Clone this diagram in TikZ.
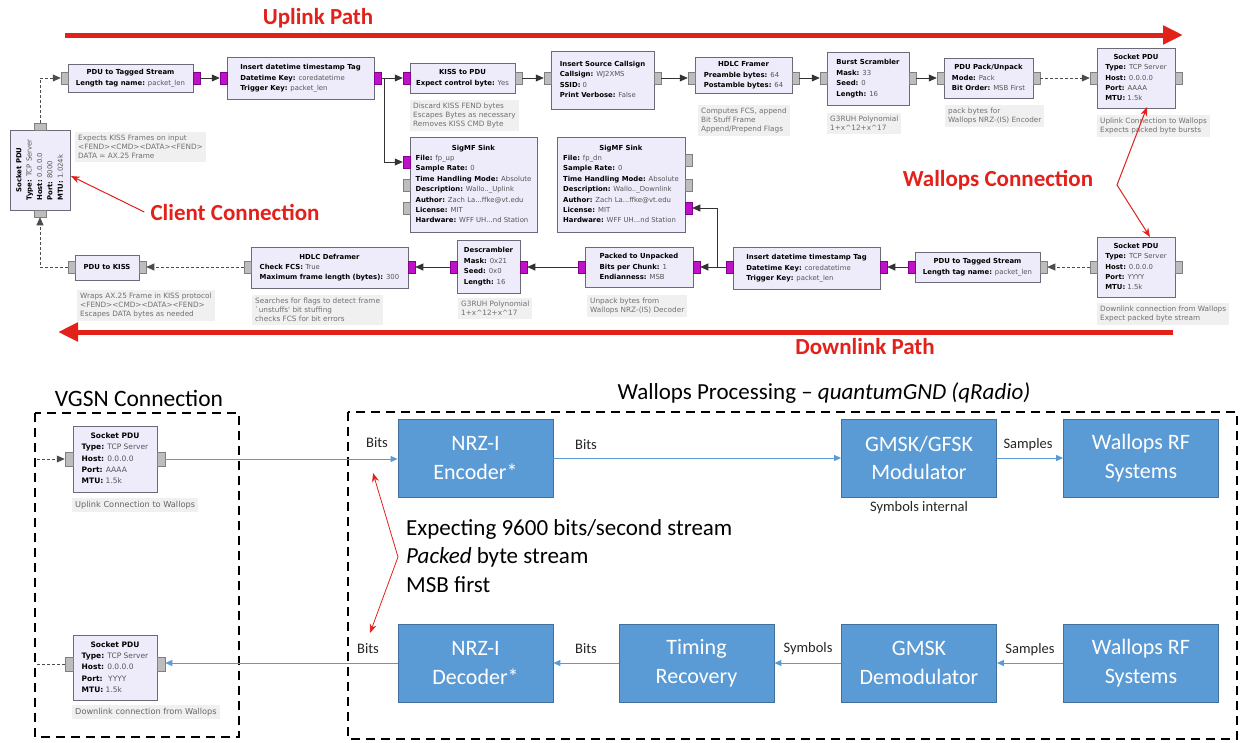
\documentclass[tikz,border=0pt]{standalone}
\usepackage{fontspec}
\setmainfont{Carlito}
\newfontfamily\dvfont{DejaVu Sans}
\usetikzlibrary{arrows.meta}
\definecolor{gfill}{HTML}{EEECFA}
\definecolor{gborder}{HTML}{6A6A78}
\definecolor{pgray}{HTML}{BDBDBD}
\definecolor{pgrayb}{HTML}{7F7F7F}
\definecolor{pmag}{HTML}{C010C8}
\definecolor{pmagb}{HTML}{800090}
\definecolor{cfill}{HTML}{F0F0F0}
\definecolor{ctext}{HTML}{707070}
\definecolor{gval}{HTML}{555555}
\definecolor{rred}{HTML}{E3211B}
\definecolor{bfill}{HTML}{5B9BD5}
\definecolor{bdraw}{HTML}{41719C}
\definecolor{bline}{HTML}{5B9BD5}
\newcommand{\gbf}{\dvfont\fontsize{6.9}{10.4}\selectfont}
\newcommand{\gcf}{\dvfont\fontsize{7.3}{9}\selectfont}
\newcommand{\vbf}{\dvfont\fontsize{7.5}{11.3}\selectfont}
\newcommand{\vcf}{\dvfont\fontsize{8.2}{10}\selectfont}
\newcommand{\gtitle}[1]{\multicolumn{1}{@{}c@{}}{\textbf{#1}}}
\newcommand{\gkv}[2]{\textbf{#1:} \textcolor{gval}{#2}}
\newcommand{\gtab}[1]{\begin{tabular}{@{}l@{}}#1\end{tabular}}
\tikzset{
  gblk/.style={draw=gborder, fill=gfill, line width=0.7pt, inner sep=1.5pt, font=\gbf, align=left},
  vblk/.style={gblk, font=\vbf},
  gport/.style={draw=pgrayb, fill=pgray, minimum width=7pt, minimum height=12pt, inner sep=0pt, line width=0.5pt},
  mport/.style={gport, draw=pmagb, fill=pmag},
  vport/.style={gport, minimum width=12pt, minimum height=7pt},
  bport/.style={gport, minimum width=8pt, minimum height=14pt},
  gcom/.style={fill=cfill, text=ctext, font=\gcf, align=left, inner sep=3pt, anchor=north west},
  vcom/.style={gcom, font=\vcf, text=black!60},
  gcon/.style={draw=black!80, line width=0.7pt, -{Triangle[length=8pt,width=7pt]}},
  gmsg/.style={gcon, draw=black!70, dash pattern=on 3pt off 2pt},
  bbox/.style={draw=bdraw, fill=bfill, line width=0.8pt, text=white, font=\fontsize{22}{28.5}\selectfont, align=center, minimum width=155pt, minimum height=78pt, inner sep=0pt},
  bcon/.style={draw=bline, line width=0.9pt, -{Triangle[length=7pt,width=6pt]}},
  blab/.style={font=\fontsize{14.5}{17}\selectfont, text=black!85, inner sep=1pt},
  dbox/.style={draw=black, line width=2.5pt, dash pattern=on 9pt off 6pt},
  rbig/.style={draw=rred, line width=5pt, -{Triangle[length=20pt,width=18pt]}},
  rone/.style={draw=rred, line width=1pt, -{Stealth[length=9pt,width=7pt]}},
  rtwo/.style={draw=rred, line width=1pt, {Stealth[length=9pt,width=7pt]}-{Stealth[length=9pt,width=7pt]}},
  rlab/.style={text=rred, font=\bfseries\fontsize{23}{27}\selectfont, inner sep=0pt},
  ttl/.style={font=\fontsize{23}{27}\selectfont, inner sep=0pt}
}
\begin{document}
\begin{tikzpicture}[x=1pt,y=-1pt]
\fill[white] (0,0) rectangle (1248,742);
\useasboundingbox (0,0) rectangle (1248,742);

% ---------- big red path arrows
\coordinate (u1) at (65,35); \coordinate (u2) at (1183,35);
\draw[rbig] (u1) -- (u2);
\node[rlab] (ut) at (318,18) {Uplink Path};
\coordinate (d1) at (1173,332); \coordinate (d2) at (58,332);
\draw[rbig] (d1) -- (d2);
\node[rlab] (dt) at (865,347) {Downlink Path};

% ---------- top uplink chain
\node[gblk, minimum width=125pt, minimum height=28pt] (a1) at (130.5,78) {\gtab{\gtitle{PDU to Tagged Stream}\\\gkv{Length tag name}{packet\_len}}};
\node[gport] (a1i) at (64.5,78) {};
\node[mport] (a1o) at (196.5,78) {};
\node[gblk, minimum width=147pt, minimum height=42pt] (a2) at (300.5,78) {\gtab{\gtitle{Insert datetime timestamp Tag}\\\gkv{Datetime Key}{coredatetime}\\\gkv{Trigger Key}{packet\_len}}};
\node[mport] (a2i) at (223.5,78) {};
\node[mport] (a2o) at (377.5,78) {};
\node[gblk, minimum width=105pt, minimum height=30pt] (a3) at (462.5,78) {\gtab{\gtitle{KISS to PDU}\\\gkv{Expect control byte}{Yes}}};
\node[mport] (a3i) at (406.5,78) {};
\node[gport] (a3o) at (518.5,78) {};
\node[gblk, minimum width=103pt, minimum height=58pt] (a4) at (602.5,80) {\gtab{\gtitle{Insert Source Callsign}\\\gkv{Callsign}{WJ2XMS}\\\gkv{SSID}{0}\\\gkv{Print Verbose}{False}}};
\node[gport] (a4i) at (547.5,78) {};
\node[gport] (a4o) at (657.5,78) {};
\node[gblk, minimum width=97pt, minimum height=36pt] (a5) at (743.5,75) {\gtab{\gtitle{HDLC Framer}\\\gkv{Preamble bytes}{64}\\\gkv{Postamble bytes}{64}}};
\node[gport] (a5i) at (691.5,78) {};
\node[gport] (a5o) at (795.5,78) {};
\node[gblk, minimum width=82pt, minimum height=53pt] (a6) at (868,78.5) {\gtab{\gtitle{Burst Scrambler}\\\gkv{Mask}{33}\\\gkv{Seed}{0}\\\gkv{Length}{16}}};
\node[gport] (a6i) at (823.5,78) {};
\node[gport] (a6o) at (912.5,78) {};
\node[gblk, minimum width=89pt, minimum height=40pt] (a7) at (988.5,78) {\gtab{\gtitle{PDU Pack/Unpack}\\\gkv{Mode}{Pack}\\\gkv{Bit Order}{MSB First}}};
\node[gport] (a7i) at (940.5,78) {};
\node[gport] (a7o) at (1036.5,78) {};
\node[gblk, minimum width=78pt, minimum height=60pt] (a8) at (1136,78) {\gtab{\gtitle{Socket PDU}\\\gkv{Type}{TCP Server}\\\gkv{Host}{0.0.0.0}\\\gkv{Port}{AAAA}\\\gkv{MTU}{1.5k}}};
\node[gport] (a8i) at (1093.5,78) {};
\node[gport] (a8o) at (1178.5,78) {};

\draw[gcon] (a1o.east) -- (a2i.west);
\draw[gcon] (a2o.east) -- (a3i.west);
\draw[gcon] (a3o.east) -- (a4i.west);
\draw[gcon] (a4o.east) -- (a5i.west);
\draw[gcon] (a5o.east) -- (a6i.west);
\draw[gcon] (a6o.east) -- (a7i.west);
\draw[gmsg] (a7o.east) -- (a8i.west);

% comments top
\node[gcom] (c3) at (410,100) {Discard KISS FEND bytes\\Escapes Bytes as necessary\\Removes KISS CMD Byte};
\node[gcom] (c5) at (698,105) {Computes FCS, append\\Bit Stuff Frame\\Append/Prepend Flags};
\node[gcom] (c6) at (827,113) {G3RUH Polynomial\\1+x\textasciicircum 12+x\textasciicircum 17};
\node[gcom] (c7) at (945,105) {pack bytes for\\Wallops NRZ-(IS) Encoder};
\node[gcom] (c8) at (1097,115) {Uplink Connection to Wallops\\Expects packed byte bursts};

% left socket PDU (rotated)
\node[gblk, rotate=90, minimum width=80pt, minimum height=60pt] (ls) at (40,170) {\gtab{\gtitle{Socket PDU}\\\gkv{Type}{TCP Server}\\\gkv{Host}{0.0.0.0}\\\gkv{Port}{8000}\\\gkv{MTU}{1.024k}}};
\node[vport] (lst) at (40,126.5) {};
\node[vport] (lsb) at (40,213.5) {};
\node[gcom] (c9) at (75,132) {Expects KISS Frames on input\\<FEND><CMD><DATA><FEND>\\DATA = AX.25 Frame};
\draw[gmsg] (lst.north) |- (a1i.west);

% SigMF sinks
\node[gblk, minimum width=127pt, minimum height=95pt] (s1) at (473.5,184.5) {\gtab{\gtitle{SigMF Sink}\\\gkv{File}{fp\_up}\\\gkv{Sample Rate}{0}\\\gkv{Time Handling Mode}{Absolute}\\\gkv{Description}{Wallo..\_Uplink}\\\gkv{Author}{Zach La...ffke@vt.edu}\\\gkv{License}{MIT}\\\gkv{Hardware}{WFF UH...nd Station}}};
\node[mport] (s1i) at (406.5,162) {};
\node[gport] (s1p) at (406.5,185) {};
\node[gport] (s1q) at (406.5,208) {};
\node[gblk, minimum width=128pt, minimum height=95pt] (s2) at (621,184.5) {\gtab{\gtitle{SigMF Sink}\\\gkv{File}{fp\_dn}\\\gkv{Sample Rate}{0}\\\gkv{Time Handling Mode}{Absolute}\\\gkv{Description}{Wallo..\_Downlink}\\\gkv{Author}{Zach La...ffke@vt.edu}\\\gkv{License}{MIT}\\\gkv{Hardware}{WFF UH...nd Station}}};
\node[gport] (s2p) at (688.5,160) {};
\node[gport] (s2q) at (688.5,185) {};
\node[mport] (s2m) at (688.5,208) {};
\coordinate (j1) at (384,78);
\draw[gcon] (j1) |- (s1i.west);

% ---------- bottom downlink chain
\node[gblk, minimum width=64pt, minimum height=25pt] (b1) at (107,267.5) {\gtab{\gtitle{PDU to KISS}}};
\node[gport] (b1i) at (71.5,267) {};
\node[gport] (b1o) at (142.5,267) {};
\node[gblk, minimum width=157pt, minimum height=41pt] (b2) at (329.5,267.5) {\gtab{\gtitle{HDLC Deframer}\\\gkv{Check FCS}{True}\\\gkv{Maximum frame length (bytes)}{300}}};
\node[gport] (b2i) at (247.5,267) {};
\node[mport] (b2o) at (411.5,267) {};
\node[gblk, minimum width=63pt, minimum height=53pt] (b3) at (488.5,266.5) {\gtab{\gtitle{Descrambler}\\\gkv{Mask}{0x21}\\\gkv{Seed}{0x0}\\\gkv{Length}{16}}};
\node[mport] (b3i) at (453.5,267) {};
\node[mport] (b3o) at (523.5,267) {};
\node[gblk, minimum width=108pt, minimum height=40pt] (b4) at (639,267) {\gtab{\gtitle{Packed to Unpacked}\\\gkv{Bits per Chunk}{1}\\\gkv{Endianness}{MSB}}};
\node[mport] (b4i) at (581.5,267) {};
\node[mport] (b4o) at (696.5,267) {};
\node[gblk, minimum width=147pt, minimum height=42pt] (b5) at (806.5,268) {\gtab{\gtitle{Insert datetime timestamp Tag}\\\gkv{Datetime Key}{coredatetime}\\\gkv{Trigger Key}{packet\_len}}};
\node[mport] (b5i) at (729.5,267) {};
\node[mport] (b5o) at (883.5,267) {};
\node[gblk, minimum width=125pt, minimum height=30pt] (b6) at (977.5,267) {\gtab{\gtitle{PDU to Tagged Stream}\\\gkv{Length tag name}{packet\_len}}};
\node[mport] (b6i) at (911.5,267) {};
\node[gport] (b6o) at (1043.5,267) {};
\node[gblk, minimum width=78pt, minimum height=60pt] (b7) at (1136,267) {\gtab{\gtitle{Socket PDU}\\\gkv{Type}{TCP Server}\\\gkv{Host}{0.0.0.0}\\\gkv{Port}{YYYY}\\\gkv{MTU}{1.5k}}};
\node[gport] (b7i) at (1093.5,267) {};
\node[gport] (b7o) at (1178.5,267) {};

\draw[gmsg] (b7i.west) -- (b6o.east);
\draw[gcon] (b6i.west) -- (b5o.east);
\draw[gcon] (b5i.west) -- (b4o.east);
\coordinate (j2) at (717,267);
\draw[gcon] (j2) |- (s2m.east);
\draw[gcon] (b4i.west) -- (b3o.east);
\draw[gcon] (b3i.west) -- (b2o.east);
\draw[gmsg] (b2i.west) -- (b1o.east);
\draw[gmsg] (b1i.west) -| (lsb.south);

\node[gcom] (cb1) at (77,290) {Wraps AX.25 Frame in KISS protocol\\<FEND><CMD><DATA><FEND>\\Escapes DATA bytes as needed};
\node[gcom] (cb2) at (252,295) {Searches for flags to detect frame\\`unstuffs' bit stuffing\\checks FCS for bit errors};
\node[gcom] (cb3) at (458,298) {G3RUH Polynomial\\1+x\textasciicircum 12+x\textasciicircum 17};
\node[gcom] (cb4) at (587,295) {Unpack bytes from\\Wallops NRZ-(IS) Decoder};
\node[gcom] (cb7) at (1097,303) {Downlink connection from Wallops\\Expect packed byte stream};

% red annotations top
\node[rlab] (cc) at (235,212) {Client Connection};
\coordinate (cct) at (71,176);
\draw[rone] ([xshift=-6pt]cc.west) -- (cct);
\node[rlab] (wc) at (998,180) {Wallops Connection};
\coordinate (wc1) at (1147,107);
\coordinate (wc2) at (1117,185);
\coordinate (wc3) at (1150,237);
\draw[rtwo] (wc1) -- (wc2) -- (wc3);

% ---------- bottom section
\node[ttl, font=\fontsize{23.5}{27}\selectfont] (vt) at (139,398) {VGSN Connection};
\draw[dbox] (35,413) rectangle (239,737);
\node[ttl] (wt) at (824,393) {Wallops Processing \textendash\ \textit{quantumGND (qRadio)}};
\draw[dbox] (348,412) rectangle (1237,739);

\node[vblk, minimum width=84pt, minimum height=66pt] (v1) at (115,459) {\gtab{\gtitle{Socket PDU}\\\gkv{Type}{TCP Server}\\\gkv{Host}{0.0.0.0}\\\gkv{Port}{AAAA}\\\gkv{MTU}{1.5k}}};
\node[bport] (v1i) at (69,459) {};
\node[bport] (v1o) at (161,459) {};
\node[vcom] (vc1) at (72,498) {Uplink Connection to Wallops};
\node[vblk, minimum width=84pt, minimum height=65pt] (v2) at (115,667.5) {\gtab{\gtitle{Socket PDU}\\\gkv{Type}{TCP Server}\\\gkv{Host}{0.0.0.0}\\\gkv{Port}{\ YYYY}\\\gkv{MTU}{1.5k}}};
\node[bport] (v2i) at (69,664) {};
\node[bport] (v2o) at (161,664) {};
\node[vcom] (vc2) at (72,705) {Downlink connection from Wallops};
\coordinate (vin) at (37,459);
\coordinate (vout) at (37,664);
\draw[gmsg] (vin) -- (v1i.west);
\draw[gmsg, -] (v2i.west) -- (vout);

\node[bbox] (enc) at (475.5,458) {NRZ-I\\Encoder*};
\node[bbox] (mod) at (919,458) {GMSK/GFSK\\Modulator};
\node[bbox] (rf1) at (1141,458) {Wallops RF\\Systems};
\node[bbox] (dec) at (475.5,663) {NRZ-I\\Decoder*};
\node[bbox] (tim) at (696.5,663) {Timing\\Recovery};
\node[bbox] (dem) at (919,663) {GMSK\\Demodulator};
\node[bbox] (rf2) at (1141,663) {Wallops RF\\Systems};

\draw[bcon] (v1o.east) -- (v1o.east -| enc.west);
\node[blab] (l1) at (377,443) {Bits};
\draw[bcon] (enc.east) -- (mod.west);
\node[blab] (l2) at (586,445) {Bits};
\draw[bcon] (mod.east) -- (rf1.west);
\node[blab] (l3) at (1028,445) {Samples};
\node[blab] (l4) at (919,508) {Symbols internal};
\draw[bcon] (rf2.west) -- (dem.east);
\node[blab] (l5) at (1030,650) {Samples};
\draw[bcon] (dem.west) -- (tim.east);
\node[blab] (l6) at (808,649) {Symbols};
\draw[bcon] (tim.west) -- (dec.east);
\node[blab] (l7) at (586,649) {Bits};
\draw[bcon] (dec.west) -- (dec.west -| v2o.east);
\node[blab] (l8) at (368,649) {Bits};

\coordinate (rc1) at (373,473);
\coordinate (rc2) at (398,557);
\coordinate (rc3) at (370,633);
\draw[rtwo, line width=0.8pt] (rc1) -- (rc2) -- (rc3);
\node[ttl, anchor=west] (t1) at (406,529) {Expecting 9600 bits/second stream};
\node[ttl, anchor=west] (t2) at (406,557) {\textit{Packed} byte stream};
\node[ttl, anchor=west] (t3) at (406,585) {MSB first};
\end{tikzpicture}
\end{document}
